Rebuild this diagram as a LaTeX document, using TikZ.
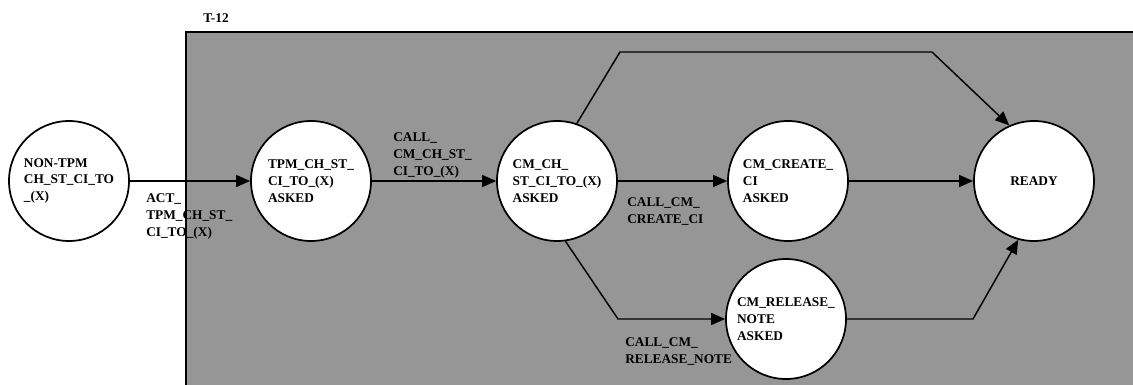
\documentclass[tikz,border=0pt]{standalone}
\usepackage{fontspec}
\setmainfont{Liberation Serif}
\usetikzlibrary{arrows.meta}
\definecolor{boxgray}{RGB}{150,150,150}

\begin{document}
\begin{tikzpicture}[x=0.75pt, y=-0.75pt, >={Triangle[length=10.5pt,width=9pt]},
    state/.style={circle, draw, line width=1.3pt, fill=white, minimum size=90pt,
        inner sep=0pt, align=left, font=\bfseries\fontsize{10}{12.5}\selectfont},
    lbl/.style={anchor=north west, inner sep=0pt, align=left,
        font=\bfseries\fontsize{10}{12.75}\selectfont},
    flow/.style={->, line width=1.1pt}]
    \useasboundingbox (0,0) rectangle (1133,385);

    % Shaded region
    \fill[boxgray] (186,32) rectangle (1133,385);
    \draw[line width=1.6pt] (186,385) -- (186,32) -- (1133,32);
    \node[lbl] (t12) at (203,13) {T-12};

    % States
    \node[state] (nontpm) at (69,181) {NON-TPM\\CH\_ST\_CI\_TO\\\_(X)};
    \node[state] (tpm) at (311,181) {TPM\_CH\_ST\_\\CI\_TO\_(X)\\ASKED};
    \node[state] (cmch) at (557,181) {CM\_CH\_\\ST\_CI\_TO\_(X)\\ASKED};
    \node[state] (cmcreate) at (788,181) {CM\_CREATE\_\\CI\\ASKED};
    \node[state] (cmrelease) at (786,319) {CM\_RELEASE\_\\NOTE\\ASKED};
    \node[state] (ready) at (1034,181) {READY};

    % Bend points
    \coordinate (b1) at (620,52);
    \coordinate (b2) at (932,52);
    \coordinate (b3) at (618,319);
    \coordinate (b4) at (973,319);

    % Transitions
    \draw[flow] (nontpm) -- (tpm);
    \draw[flow] (tpm) -- (cmch);
    \draw[flow] (cmch) -- (cmcreate);
    \draw[flow] (cmcreate) -- (ready);
    \draw[flow] (cmch.71) -- (b1) -- (b2) -- (ready.114);
    \draw[flow] (cmch.-82) -- (b3) -- (cmrelease);
    \draw[flow] (cmrelease) -- (b4) -- (ready.-105);

    % Labels
    \node[lbl] (act) at (146,193) {ACT\_\\TPM\_CH\_ST\_\\CI\_TO\_(X)};
    \node[lbl] (callcmch) at (393,132) {CALL\_\\CM\_CH\_ST\_\\CI\_TO\_(X)};
    \node[lbl] (callcreate) at (627,197) {CALL\_CM\_\\CREATE\_CI};
    \node[lbl] (callrelease) at (625,337) {CALL\_CM\_\\RELEASE\_NOTE};
\end{tikzpicture}
\end{document}
